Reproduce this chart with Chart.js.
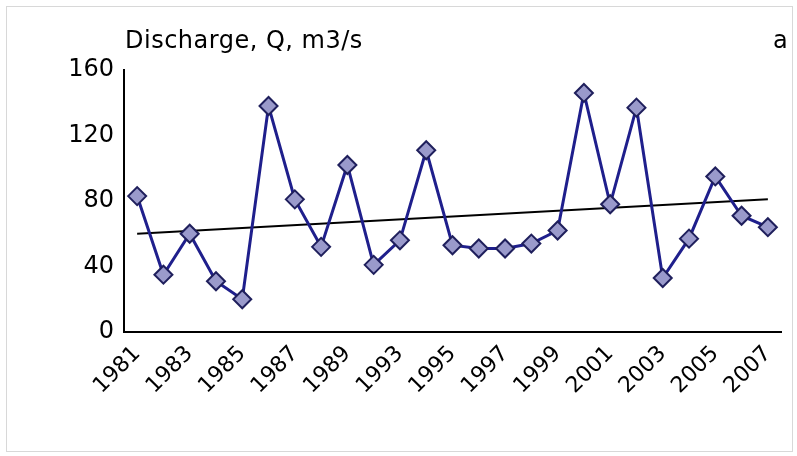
<!DOCTYPE html>
<html><head><meta charset="utf-8">
<script src="https://cdn.jsdelivr.net/npm/chart.js@4"></script>
<style>
body{margin:0;background:#fff;}
#wrap{position:absolute;left:6px;top:6px;width:785px;height:444px;border:1px solid #d8d8d8;}
</style></head>
<body>
<div id="wrap"><canvas id="c" width="785" height="444"></canvas></div>
<script>
const years = ['1981','1982','1983','1984','1985','1986','1987','1988','1989','1991','1993','1994','1995','1996','1997','1998','1999','2000','2001','2002','2003','2004','2005','2006','2007'];
const discharge = [83,35,60,31,20,138,81,52,102,41,56,111,53,51,51,54,62,146,78,137,33,57,95,71,64];
const trend = [60,null,null,null,null,null,null,null,null,null,null,null,null,null,null,null,null,null,null,null,null,null,null,null,81];
const yTicks = [0,40,80,120,160];

const txt = {
  id:'txt',
  afterDraw(ch){
    const c = ch.ctx;
    c.save();
    c.fillStyle='#000';
    c.font='24px "DejaVu Sans"';
    c.letterSpacing='0.5px';
    c.fillText('Discharge, Q, m3/s',118,41);
    c.fillText('a',766,41);
    c.restore();
  }
};

new Chart(document.getElementById('c'),{
  type:'line',
  data:{labels:years,datasets:[
    {data:discharge,borderColor:'#1f1f8c',borderWidth:3,pointStyle:'rectRot',pointRadius:9,
     pointBackgroundColor:'#9a9acb',pointBorderColor:'#1f1f5c',pointBorderWidth:2,tension:0},
    {data:trend,borderColor:'#000',borderWidth:2,pointRadius:0,spanGaps:true}
  ]},
  options:{
    responsive:false,animation:false,
    layout:{padding:{top:63,right:11,left:0,bottom:0}},
    plugins:{legend:{display:false},tooltip:{enabled:false}},
    scales:{
      x:{offset:true,grid:{display:false,tickLength:6,color:'#000'},border:{color:'#000',width:2},
         afterFit:a=>{a.height=119;},
         ticks:{color:'#000',font:{size:22,family:'DejaVu Sans'},maxRotation:45,minRotation:45,autoSkip:false,
           callback:(v,i)=> i%2===0 ? years[i] : ''}},
      y:{min:0,max:160,grid:{display:false,tickLength:6,color:'#000'},border:{color:'#000',width:2},
         afterFit:a=>{a.width=117;},
         afterBuildTicks:a=>{a.ticks=yTicks.map(v=>({value:v}));},
         ticks:{color:'#000',font:{size:24,family:'DejaVu Sans'},padding:4}}
    }
  },
  plugins:[txt]
});
</script>
</body></html>
